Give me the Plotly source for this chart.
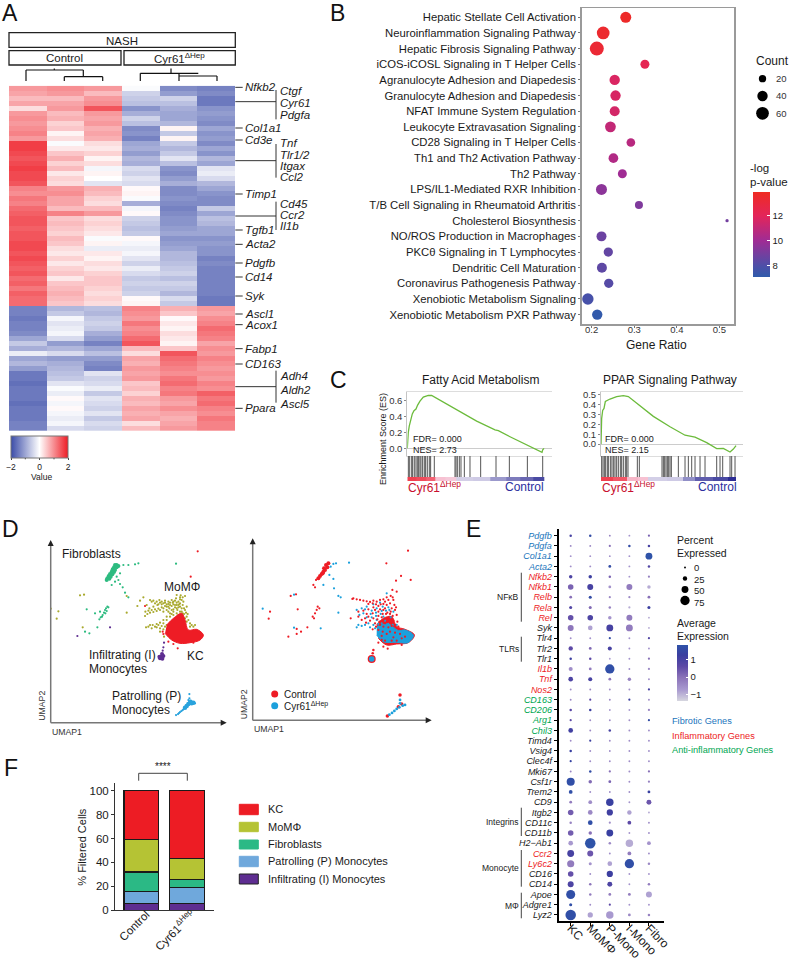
import plotly.graph_objects as go

W, H = 791, 960
FONT = "Liberation Sans, Arial, sans-serif"

# ---------- Panel A data ----------
ctrl1 = [.9,.8,.6,.8,.3,.9,1.0,.9,1.0,1.1,.9, 1.7,1.7,1.6,1.5,1.6,1.7,1.6,1.6,1.5, 1.1,1.0,1.2,1.1,
         1.3,1.4,1.5,1.5,1.4,1.5,1.5,1.6,1.6,1.5,1.6,1.5,1.4,1.5,1.3,1.4,1.2,1.4,1.3,1.3,
         -1.4,-1.4,-1.5,-1.4,-1.4,-1.3,-1.0,-.6,-.9,-.2,-1.0,-.8,-1.1,
         -1.5,-1.5,-1.6,-1.5,-1.5,-1.5,-1.6,-1.5,-1.5,-1.5,-1.4,-1.4]
ctrl2 = [1.0,.9,.6,.8,.9,.6,.7,.4,.5,.1,.3, -.05,.2,.5,.7,.4,.6,.2,.4,.3, .9,1.0,.8,.8,
         .6,1.1,.5,.6,.5,.4,.6,.5,.3,.2,.4,.2,.4,.5,.2,.5,.6,.7,.6,.5,
         -.8,-.6,-.1,-.3,-.2,-.1,-.4,-1.1,-.8,-.4,-1.1,-.9,-.8,
         -.7,-.6,-.3,-.05,-.2,.05,-.1,.05,-.1,-.2,-.1,-.4]
ctrl3 = [.9,.6,.9,1.0,1.5,.9,.8,.9,.7,.8,.7, .3,.2,.4,.1,.3,-.1,.1,.0,-.3, .7,.6,.4,.3,
         .6,.9,.3,.4,.3,.2,-.05,.1,-.2,.2,.1,.3,.2,.4,.5,.5,.4,.3,.4,.3,
         -.7,-.8,-.6,-.5,-.6,-.9,-1.1,-1.4,-1.0,-.7,-1.1,-1.3,-1.4,
         -.3,-.5,-.4,-.2,-.6,-.3,-.4,-.5,-.3,-.6,-.4,-.5]
cyr1 = [-.05,-.5,-.6,-.7,-1.2,-.9,-.5,-.7,-1.3,-1.2,-1.4, -1.0,-.9,-1.1,-.8,-.9,-.4,-.5,-.3,-.4, .05,.1,-.05,-.9,
        -.1,.05,-.5,-.6,-.7,-.6,.05,-.1,-.2,-.1,-.3,-.5,-.2,-.4,-.6,-.5,-.6,-.5,.05,.1,
        1.1,1.0,.9,1.2,1.0,1.1,1.3,1.5,.6,.3,.8,.7,.9,
        .8,.9,.5,.6,.4,.7,.6,.8,.7,.8,.3,.6]
cyr2 = [-1.3,-1.1,-.5,-.7,-.9,-1.0,-1.0,-.8,.1,-.6,.1, -.6,-.8,-.6,-.3,-.7,-1.2,-1.3,-1.1,-.9, -1.3,-1.3,-1.2,-1.3,
        -1.4,-1.3,-1.2,-1.2,-1.1,-1.0,-1.2,-1.1,-1.0,-.8,-.8,-.7,-.6,-.5,-.7,-.5,-.6,-.8,-.4,-.6,
        .7,.5,.05,.2,.1,.3,.2,.1,.5,1.5,1.3,1.2,1.1,
        1.0,1.2,1.3,1.1,1.2,.9,.8,1.0,.8,.7,.8,.9]
cyr3 = [-1.4,-1.3,-1.5,-1.5,-1.2,-1.1,-1.2,-1.3,-1.0,-1.2,-1.1, -1.3,-1.0,-1.2,-.8,-1.0,-.3,-.2,-.4,-.8, -1.0,-1.2,-1.3,-1.3,
        -.6,-1.0,-.7,-.8,-1.0,-1.0,-1.2,-1.1,-1.2,-1.2,-1.4,-1.3,-1.4,-1.4,-1.4,-1.4,-1.4,-1.4,-1.5,-1.5,
        .9,.8,1.0,1.1,1.3,1.2,1.1,.8,1.0,.9,1.1,1.0,.9,
        1.0,.9,1.1,1.0,1.4,1.2,1.3,1.1,1.0,1.2,1.1,1.1]

single_genes = [("Nfkb2",262),("Col1a1",384),("Cd3e",420),("Timp1",582),("Tgfb1",690),("Acta2",733),("Pdgfb",789),
                ("Cd14",831),("Syk",888),("Ascl1",942),("Acox1",974),("Fabp1",1046),("CD163",1092),("Ppara",1225)]
gene_groups = [(305,270,358,[("Ctgf",273),("Cyr61",309),("Pdgfa",346)]),
               (482,432,533,[("Tnf",430),("Tlr1/2",464),("Itgax",497),("Ccl2",532)]),
               (648,605,690,[("Cd45",612),("Ccr2",645),("Il1b",677)]),
               (1160,1112,1208,[("Adh4",1128),("Aldh2",1170),("Ascl5",1213)])]

# ---------- Panel B data ----------
pathways = ["Hepatic Stellate Cell Activation","Neuroinflammation Signaling Pathway","Hepatic Fibrosis Signaling Pathway",
            "iCOS-iCOSL Signaling in T Helper Cells","Agranulocyte Adhesion and Diapedesis","Granulocyte Adhesion and Diapedesis",
            "NFAT Immune System Regulation","Leukocyte Extravasation Signaling","CD28 Signaling in T Helper Cells",
            "Th1 and Th2 Activation Pathway","Th2 Pathway","LPS/IL1-Mediated RXR Inhibition",
            "T/B Cell Signaling in Rheumatoid Arthritis","Cholesterol Biosynthesis","NO/ROS Production in Macrophages",
            "PKCθ Signaling in T Lymphocytes","Dendritic Cell Maturation","Coronavirus Pathogenesis Pathway",
            "Xenobiotic Metabolism Signaling","Xenobiotic Metabolism PXR Pathway"]
gene_ratio = [.28,.227,.212,.325,.254,.256,.254,.244,.292,.251,.272,.223,.311,.518,.223,.239,.224,.24,.191,.213]
path_count = [45,60,73,30,40,40,37,43,28,35,30,45,24,4,37,32,37,32,48,40]
log_p = [13.6,13.4,13.2,12.2,11.7,11.6,11.5,11.0,10.7,10.5,10.0,9.5,9.2,8.9,8.7,8.5,8.4,8.2,7.8,7.2]
count_legend = [20,40,60]

# ---------- Panel C data ----------
fa_rank = [112,113,115,118,122,127,132,138,143,150,160,175,185,210,260,320,375,385,420,470,516,518,522]
fa_es = [0,.10,.2,.28,.36,.43,.47,.49,.54,.59,.64,.66,.66,.6,.48,.34,.23,.22,.145,.04,-.05,-.02,0]
fa_hits = [115,118,124,128,133,138,142,146,150,153,158,163,167,172,178,182,193,255,258,262,268,273,283,300,332,378,418,472,518]
fa_edges = [112,140,170,195,225,258,310,360,410,450,490,522]
fa_rib = [1.7,1.6,1.4,.5,.4,-.25,-.3,-.8,-1.1,-1.3,-1.6]
pp_rank = [693,695,698,702,706,720,740,760,775,800,850,900,945,975,1010,1040,1060,1080,1090,1098]
pp_es = [0,.26,.34,.36,.43,.455,.48,.49,.48,.41,.28,.175,.09,.07,.015,-.045,-.044,-.08,-.05,-.015]
pp_hits = [695,699,703,707,712,716,722,726,731,735,740,745,751,755,760,766,770,774,802,808,876,880,884,888,892,896,900,904,
           925,945,955,965,975,990,1005,1040,1050,1058,1080,1085,1095]
pp_edges = [693,730,770,805,835,890,940,975,1030,1075,1098]
pp_rib = [1.7,1.5,.6,.5,-.25,-.3,-.9,-1.4,-1.6,-1.9]

# ---------- Panel D data (UMAP units) ----------
fib_dense = [(350,165),(345,165),(355,168),(342,172),(350,172),(338,178),(345,180),(335,185),(342,186),(330,192),(337,193),
             (326,198),(332,200),(322,205),(328,206),(320,210)]
fib_sparse = [(370,165),(385,165),(405,163),(415,160),(528,161),(360,190),(350,200),(355,210),(360,222),(345,215),(335,225),
              (368,232),(375,248),(385,262),(322,290),(318,295),(320,303),(312,308),(308,315),(302,322),(315,300),(300,305),
              (285,310),(260,298),(255,365),(268,370),(292,352),(325,292),(316,310),(306,320),(298,328)]
mo_pts = [(450,270),(460,272),(470,275),(480,278),(490,280),(500,283),(510,285),(520,283),(530,285),(540,262),(545,270),(535,275),
          (525,272),(515,270),(505,275),(495,288),(485,292),(475,296),(465,298),(455,300),(445,302),(436,305),(440,285),(448,295),
          (460,290),(472,285),(508,295),(520,298),(532,300),(545,295),(555,300),(548,285),(540,305),(552,312),(560,320),(565,330),
          (570,340),(545,320),(510,310),(500,320),(490,330),(480,338),(470,342),(458,345),(445,350),(438,352),(480,355),(490,358),
          (470,352),(420,272),(430,262),(412,288),(580,350),(575,345),(555,258),(530,255),(175,304),(170,326),(152,296),(240,256),
          (252,254),(380,258),(380,308),(248,352),(525,292),(515,300),(530,310),(500,300),(490,305),(538,282),(550,275),(558,308),
          (505,290),(495,272),(485,283),(478,270),(540,290),(552,295),(563,312),(528,265),(518,278),
          (455,275),(465,280),(475,283),(485,275),(495,278),(505,282),(515,288),(525,285),(535,292),(540,280),(530,278),(520,275),
          (510,278),(500,290),(490,295),(480,300),(470,303),(460,306),(450,308),(442,312),(435,318),(520,305),(530,295),(545,305),
          (535,315),(548,310),(555,325),(560,335),(510,320),(520,315),(500,330),(490,340),(500,345),(485,348),(475,345),(465,350),
          (455,355),(450,345),(495,350),(480,365),(492,380),(540,268),(548,262),(542,256),(535,285),(560,290),(505,305),(515,312),
          (570,350),(585,345)]
kc_x = [500,520,545,555,565,590,610,600,570,540,515,495]
kc_y = [345,325,310,330,360,358,375,390,398,400,390,370]
kc_sparse = [(593,124),(572,200),(435,288),(533,415),(490,372),(488,365),(505,395),(520,402),(580,398)]
inf_dense = [(478,440),(484,440),(490,438),(480,445),(487,446),(486,432)]
inf_sparse = [(488,422),(490,412),(492,398),(232,378),(330,352)]
pat_dense = [(570,578),(575,580),(580,578),(565,582),(572,576),(560,588),(555,593)]
pat_sparse = [(548,600),(540,606),(534,612),(528,615),(544,603),(537,609),(551,597),(568,552),(568,565),(565,570),(572,572),(585,580)]

red_dense = [(985,160),(978,165),(982,172),(975,180),(970,185),(965,192),(960,198),(955,205),(972,175),(968,190)]
red_sparse = [(1224,122),(1159,160),(1203,198),(1232,210),(1188,212),(1177,240),(1190,245),(948,210),(940,225),(945,232),(888,253),
              (872,258),(893,298),(810,305),(806,326),(890,357),(903,365),(890,372),(865,380),(922,352),(953,290),(958,295),(950,300),
              (945,310),(938,320),(942,325),(1060,265),(1052,325),(1057,267),(1070,268),(1080,270),(1090,272),(1100,274),(1110,276),
              (1120,272),(1130,275),(1140,270),(1150,268),(1160,262),(1172,258),(1180,270),(1170,280),(1160,285),(1150,282),(1135,288),
              (1120,292),(1105,298),(1090,302),(1075,305),(1125,300),(1140,298),(1155,295),(1175,295),(1185,300),(1190,315),(1178,318),
              (1162,308),(1148,312),(1135,318),(1120,325),(1110,332),(1098,338),(1165,325),(1150,330),(1180,332),(1192,335),(1140,345),
              (1128,350),(1118,358),(1150,410),(1163,416),(1135,398),(1205,405),(1175,348),(1195,350),(1165,352),(1160,372),(1180,382),
              (1200,372),(1145,378),(1155,392),(1190,392),(1215,380),
              (1105,282),(1118,280),(1128,283),(1142,283),(1155,275),(1165,270),(1178,262),(1183,285),(1188,292),(1172,305),(1158,312),
              (1145,322),(1132,328),(1125,340),(1170,312),(1155,340),(1185,345),(1172,340),(1162,335),(1138,335),(1150,350),(1105,320),
              (1095,325),(1085,330),(1075,320),(1150,300),(1135,305),(1118,310),(1100,312),(1135,360),(1148,365),(1170,365),(1185,368),
              (1205,385),(1175,392),(1145,390)]
blue_sparse = [(1047,158),(1008,160),(1000,162),(992,170),(788,296),(882,254),(882,353),(962,355),(1015,308),(1000,207),(970,225),
               (1002,235),(1015,258),(1022,262),(988,195),(1070,300),(1085,295),(1100,290),(1120,283),(1140,278),(1070,352),(1085,348),
               (1105,340),(1130,330),(1150,320),(1160,250),(1075,345),(1112,312),(1128,308),(1145,303),(1168,300),(1180,305),(1165,342),
               (1145,340),(1110,352),(1090,310),(1078,315),(1100,322),(1115,322),(1128,318),(1142,312),(1158,302),(1172,322),(1155,332),
               (1178,345),(1190,345),(1135,342),(1120,345),(1095,345),(1125,355),(1148,290),(1165,292),(1130,295),(1115,302),(1095,298)]
kc_red_x = [1130,1150,1175,1190,1215,1243,1225,1190,1160,1135]
kc_red_y = [345,325,320,350,358,375,398,402,405,385]
kc_blue_x = [1130,1165,1195,1215,1240,1224,1190,1150,1130]
kc_blue_y = [350,342,362,360,376,398,397,395,375]
inf_r = [(1118,430),(1120,420)]
inf_b = [(1115,447)]
inf_ring = [(1115,447)]
pat_r = [(1205,582),(1200,555),(1162,618),(1195,590)]
pat_b = [(1215,585),(1208,587),(1198,592),(1190,597),(1183,603),(1176,609),(1168,614),(1200,570),(1200,580)]

# ---------- Panel E data ----------
dot_genes = ["Pdgfb","Pdgfa","Col1a1","Acta2","Nfkb2","Nfkb1","Relb","Rela","Rel","Syk","Tlr4","Tlr2","Tlr1","Il1b","Tnf","Nos2",
             "CD163","CD206","Arg1","Chil3","Timd4","Vsig4","Clec4f","Mki67","Csf1r","Trem2","CD9","Itgb2","CD11c","CD11b",
             "H2−Ab1","Ccr2","Ly6c2","CD16","CD14","Apoe","Adgre1","Lyz2"]
blue_genes = {"Pdgfb","Pdgfa","Col1a1","Acta2"}
red_genes = {"Nfkb2","Nfkb1","Relb","Rela","Rel","Il1b","Tnf","Nos2","Ccr2","Ly6c2"}
green_genes = {"CD163","CD206","Arg1","Chil3"}
dot_cols = ["KC","MoMΦ","P-Mono","I-Mono","Fibro"]
pct_kc = [6,0,0,0,16,37,9,12,37,41,0,25,6,22,28,0,0,6,3,28,0,6,3,0,62,19,9,37,6,37,28,50,53,37,41,72,12,87]
pct_mo = [6,0,0,0,16,41,12,12,37,28,0,9,6,9,22,0,3,6,0,0,3,0,0,6,16,0,19,28,28,16,87,41,12,0,6,6,0,34]
pct_pm = [0,3,0,9,6,9,3,6,16,50,3,22,0,75,9,0,0,0,0,6,0,0,0,3,9,0,56,44,3,50,6,0,28,44,31,9,3,56]
pct_im = [0,6,0,0,0,41,3,3,41,50,0,0,0,0,16,0,3,0,0,0,0,0,0,0,0,0,0,25,19,0,56,19,75,0,0,9,0,9]
pct_fi = [3,6,50,6,3,16,9,12,0,0,3,0,3,3,0,3,0,3,3,0,0,0,0,3,3,9,31,0,0,0,19,0,6,0,6,41,0,6]
exp_kc = [1.0,-.3,-.6,-.5,.9,.2,0,.8,.5,-.1,-.5,.6,1.2,-.5,.9,-.5,-.4,.7,.6,1.1,-.5,1.3,1.4,-.3,1.7,1.7,-.2,.3,-.3,.3,-.7,1.0,-.2,.5,.9,1.7,1.7,1.7]
exp_mo = [1.6,-.3,-.6,-.5,1.2,1.0,1.6,.1,.9,-.8,-.6,.1,.6,-.2,1.0,-.4,.6,1.2,-.5,-.4,1.2,-.5,-.5,1.6,.1,-.5,-.5,-.4,1.7,0,1.8,.4,-.6,-.5,-.1,-.2,-.5,-.8]
exp_pm = [-.3,0,-.6,1.6,.2,-.6,-.4,-.3,-.6,1.0,1.6,1.0,-.8,1.7,-.1,-.5,-.4,-.7,-.5,1.0,-.5,-.5,-.5,0,.2,-.5,1.3,1.1,-.5,1.3,-.4,-.5,-.8,1.2,.9,-.2,.6,-.7]
exp_im = [-.6,1.6,-.6,-.6,-.6,-.2,-.4,-.9,-.2,-.2,-.6,-.6,-.6,-.5,-.3,-.5,1.2,-.7,-.5,-.5,-.5,-.5,-.5,-.5,-.5,-.5,-.6,-.8,.6,-.6,-.9,-.2,1.7,-.6,-.6,-.2,-.6,-.4]
exp_fi = [.2,1.0,1.8,.8,-.3,-.9,0,1.2,-.9,-.9,.8,-.6,0,-.4,-.5,1.0,-.4,-.3,1.6,-.5,-.5,-.5,-.5,0,-.3,1.3,.4,-.9,-.5,-.5,-.6,-.5,-.4,-.6,-.2,-.8,-.6,-.3]
pct_legend = [0,25,50,75]

# ---------- Panel F data ----------
f_groups = ["Control", "Cyr61<sup>ΔHep</sup>"]
f_series = [("Infiltrating (I) Monocytes", [6, 6], "#5e2d91"),
            ("Patrolling (P) Monocytes", [10, 13], "#6fa8dc"),
            ("Fibroblasts", [16, 7], "#2bb985"),
            ("MoMΦ", [27.5, 17], "#b5c334"),
            ("KC", [40.5, 57], "#ed1c24")]

# ---------- helpers ----------
px = lambda x: x / W
py = lambda y: 1 - y / H
layout = dict(width=W, height=H, margin=dict(l=0, r=0, t=0, b=0, pad=0, autoexpand=False), paper_bgcolor="white", plot_bgcolor="white",
              font=dict(family=FONT, color="#1a1a1a", size=10), showlegend=False, shapes=[], annotations=[])
hidden = dict(visible=False, fixedrange=True)

def axes(n, x0, x1, ytop, ybot, xa=None, ya=None):
    s = "" if n == 1 else str(n)
    xd = dict(hidden); yd = dict(hidden)
    xd.update(xa or {}); yd.update(ya or {})
    xd.update(domain=[px(x0), px(x1)], anchor="y" + s)
    yd.update(domain=[py(ybot), py(ytop)], anchor="x" + s)
    layout["xaxis" + s] = xd
    layout["yaxis" + s] = yd
    return "x" + s, "y" + s

def text(x, y, t, size=11, color="#1a1a1a", anchor="left", angle=0):
    layout["annotations"].append(dict(xref="paper", yref="paper", x=px(x), y=py(y), text=t, showarrow=False,
                                      xanchor="center" if anchor == "middle" else anchor,
                                      yanchor="middle", textangle=angle, borderpad=0, borderwidth=0,
                                      font=dict(size=size, color=color, family=FONT)))

def line(x0, y0, x1, y1, color="#222222", w=1):
    layout["shapes"].append(dict(type="line", xref="paper", yref="paper", x0=px(x0), y0=py(y0), x1=px(x1), y1=py(y1),
                                 line=dict(color=color, width=w)))

def rect(x0, y0, x1, y1, fill="rgba(0,0,0,0)", color="#222222", w=1, kind="rect"):
    layout["shapes"].append(dict(type=kind, xref="paper", yref="paper", x0=px(x0), y0=py(y0), x1=px(x1), y1=py(y1),
                                 fillcolor=fill, line=dict(color=color, width=w)))

def head(tx, ty, up=True):
    if up:
        p = [(tx, ty), (tx - 3, ty + 6), (tx + 3, ty + 6)]
    else:
        p = [(tx, ty), (tx - 6, ty - 3), (tx - 6, ty + 3)]
    path = "M " + " L ".join("%.5f,%.5f" % (px(a), py(b)) for a, b in p) + " Z"
    layout["shapes"].append(dict(type="path", xref="paper", yref="paper", path=path, fillcolor="#222222", line=dict(width=0)))

fig = go.Figure()
for lab, x, y in [("A", 2, 13.5), ("B", 330, 13.5), ("C", 330, 380), ("D", 2, 529), ("E", 466, 529), ("F", 4, 768)]:
    text(x, y, lab, size=23, color="#111111")

# ---------- Panel A ----------
hx, hy = axes(1, 9, 235.3, 85.7, 431, dict(range=[-.5, 5.5]), dict(range=[68.5, -.5]))
rows = list(range(len(ctrl1)))
heat_scale = [[0, "#3b4ca8"], [.5, "#ffffff"], [1, "#ee1c25"]]
fig.add_trace(go.Heatmap(z=[list(r) for r in zip(ctrl1, ctrl2, ctrl3, cyr1, cyr2, cyr3)], x=list(range(6)), y=rows, xaxis=hx, yaxis=hy,
                         zmin=-2, zmax=2, colorscale=heat_scale, hoverinfo="skip",
                         colorbar=dict(orientation="h", x=px(11), xanchor="left", y=py(435.7), yanchor="top", lenmode="pixels", len=57.3,
                                       thickness=21.6, xpad=0, ypad=0, outlinecolor="#777777", outlinewidth=1,
                                       tickvals=[-2, 0, 2], ticktext=["−2", "0", "2"], ticks="outside", ticklen=2,
                                       tickfont=dict(size=8.5, family=FONT))))
line(25.3, 457.3, 25.3, 459.3, color="#333333")
line(54, 457.3, 54, 459.3, color="#333333")
text(41.5, 476.5, "Value", size=8.5, anchor="middle")
rect(9, 32.7, 235.3, 47.3, w=1.3)
rect(9, 50.7, 121, 65, w=1.3)
rect(124, 50.7, 235.3, 65, w=1.3)
text(122, 40.5, "NASH", size=11.5, anchor="middle")
text(64.5, 58, "Control", size=11.5, anchor="middle")
text(179.5, 58, "Cyr61<sup>ΔHep</sup>", size=11.5, anchor="middle")
# dendrograms
for a in [(26,70,26,81),(26,70,83.3,70),(83.3,70,83.3,76.7),(64.3,76.7,102.7,76.7),(64.3,76.7,64.3,81),(102.7,76.7,102.7,81),(54.3,68.5,54.3,70),
          (140.3,73.3,198.3,73.3),(140.3,73.3,140.3,81),(179,76,217,76),(179,73.3,179,81),(217,76,217,81),(171,68.5,171,73.3)]:
    line(*a, color="#111111", w=1.2)
for name, z in single_genes:
    line(235.3, z / 3, 242.7, z / 3, color="#333333")
    text(245, z / 3, "<i>%s</i>" % name, size=11.5)
for z, top, bot, names in gene_groups:
    line(235.3, z / 3, 276, z / 3, color="#333333")
    line(276, top / 3, 276, bot / 3, color="#333333")
    for name, zt in names:
        text(279.5, zt / 3, "<i>%s</i>" % name, size=11.5)

# ---------- Panel B ----------
bx, by = axes(2, 581.7, 734.3, 8.3, 324,
              dict(visible=True, range=[.1765, .535], tickvals=[.2, .3, .4, .5], ticktext=["0.2", "0.3", "0.4", "0.5"], ticks="outside", ticklen=2,
                   showgrid=False, zeroline=False, showline=True, mirror=True, linecolor="#9a9a9a", linewidth=1.5, tickcolor="#777777",
                   ticklabelstandoff=-6, tickfont=dict(size=9.5, color="#333333")),
              dict(visible=True, type="category", categoryorder="array", categoryarray=pathways, range=[19.6, -.575], ticks="outside", ticklen=2,
                   showgrid=False, zeroline=False, showline=True, mirror=True, linecolor="#9a9a9a", linewidth=1.5, tickcolor="#777777",
                   tickfont=dict(size=11.3, color="#1a1a1a")))
p_scale = [[0, "#2f5bab"], [.13, "#4d4fa8"], [.43, "#a02c94"], [.72, "#e3255a"], [1, "#ef2b22"]]
SIZEREF = .744
fig.add_trace(go.Scatter(x=gene_ratio, y=pathways, mode="markers", xaxis=bx, yaxis=by, hoverinfo="skip",
                         marker=dict(size=path_count, sizemode="area", sizeref=SIZEREF, opacity=1, color=log_p, cmin=7.1, cmax=13.84, colorscale=p_scale,
                                     line=dict(width=0),
                                     colorbar=dict(x=px(753.3), xanchor="left", y=py(192.3), yanchor="top", lenmode="pixels", len=85.4, thickness=17.3,
                                                   xpad=0, ypad=0, outlinewidth=0, tickvals=[8, 10, 12], ticks="inside", ticklen=3, tickcolor="white",
                                                   tickfont=dict(size=9.5, family=FONT)))))
text(656.7, 344.5, "Gene Ratio", size=12, anchor="middle")
text(756, 61, "Count", size=12)
text(750, 167.7, "-log", size=11.5)
text(750, 181.7, "p-value", size=11.5)
cx, cy = axes(3, 750, 775, 70, 122, dict(range=[-1, 1]), dict(range=[70, 10]))
fig.add_trace(go.Scatter(x=[0, 0, 0], y=count_legend, mode="markers", xaxis=cx, yaxis=cy, hoverinfo="skip",
                         marker=dict(size=count_legend, sizemode="area", sizeref=SIZEREF, opacity=1, color="black", line=dict(width=0))))
for v, y in zip(count_legend, [79, 96, 113.3]):
    text(776, y, str(v), size=9.5, color="#333333")

# ---------- Panel C ----------
def gsea(n, x0, x1, rng_x, yr, ticks, ticktext, rank, es, hits, edges, rib):
    tick = dict(visible=True, range=yr, tickvals=ticks, ticktext=ticktext, ticks="outside", ticklen=2, showgrid=False, zeroline=True,
                zerolinecolor="#cccccc", zerolinewidth=1, showline=True, linecolor="#c4c4c4", linewidth=1, tickcolor="#888888",
                tickfont=dict(size=9.5, color="#333333"))
    xa, ya = axes(n, x0, x1, 392.3, 456, dict(range=rng_x), tick)
    layout["xaxis" + str(n)].update(visible=True, showticklabels=False, ticks="", showgrid=False, zeroline=False, showline=True, mirror=True, linecolor="#dddddd", linewidth=1)
    fig.add_trace(go.Scatter(x=rank, y=es, mode="lines", xaxis=xa, yaxis=ya, hoverinfo="skip", line=dict(color="#6cbb3c", width=1.3)))
    xr, yr2 = axes(n + 1, x0, x1, 456, 477, dict(range=rng_x), dict(range=[0, 1]))
    hx2, hy2 = [], []
    for h in hits:
        hx2 += [h, h, None]
        hy2 += [0, 1, None]
    fig.add_trace(go.Scatter(x=hx2, y=hy2, mode="lines", xaxis=xr, yaxis=yr2, hoverinfo="skip", line=dict(color="#555555", width=1)))
    xh, yh = axes(n + 2, x0, x1, 477, 481.3, dict(range=rng_x), dict(range=[-.5, .5]))
    fig.add_trace(go.Heatmap(z=[rib], x=edges, y=[0], xaxis=xh, yaxis=yh, zmin=-2, zmax=2, showscale=False, hoverinfo="skip",
                             colorscale=[[0, "#22228f"], [.5, "#ece8f4"], [.62, "#f7c3d4"], [1, "#ee2030"]]))

gsea(4, 407.3, 551.7, [112, 545], [-.096, .7], [0, .2, .4, .6], ["0.0", "0.2", "0.4", "0.6"], fa_rank, fa_es, fa_hits, fa_edges, fa_rib)
gsea(7, 601, 742.7, [693, 1118], [-.12, .523], [0, .1, .2, .3, .4, .5], ["0.0", "0.1", "0.2", "0.3", "0.4", "0.5"], pp_rank, pp_es, pp_hits, pp_edges, pp_rib)
text(481, 380, "Fatty Acid Metabolism", size=12, anchor="middle")
text(670, 380, "PPAR Signaling Pathway", size=12, anchor="middle")
text(383, 439, "Enrichment Score (ES)", size=9, anchor="middle", angle=-90)
for x, a, b in [(412.7, "FDR= 0.000", "NES= 2.73"), (605, "FDR= 0.000", "NES= 2.15")]:
    text(x, 439, a, size=9)
    text(x, 450, b, size=9)
text(408, 487, "Cyr61<sup>ΔHep</sup>", size=12, color="#c8102e")
text(601.7, 487, "Cyr61<sup>ΔHep</sup>", size=12, color="#c8102e")
text(544, 487, "Control", size=12, color="#2b2f9e", anchor="right")
text(736.7, 487, "Control", size=12, color="#2b2f9e", anchor="right")

# ---------- Panel D ----------
def pts(xa, ya, p, color, size):
    fig.add_trace(go.Scatter(x=[a for a, _ in p], y=[b for _, b in p], mode="markers", xaxis=xa, yaxis=ya, hoverinfo="skip",
                             marker=dict(color=color, size=size, line=dict(width=0))))

def blob(xa, ya, xs, ys, color):
    fig.add_trace(go.Scatter(x=xs, y=ys, mode="lines", fill="toself", fillcolor=color, xaxis=xa, yaxis=ya, hoverinfo="skip",
                             line=dict(color=color, width=1, shape="spline")))

ux, uy = axes(10, 50.7, 226.7, 540, 722.7, dict(range=[152, 680]), dict(range=[638, 90]))
pts(ux, uy, fib_sparse, "#2dbb80", 2.2)
pts(ux, uy, fib_dense, "#2dbb80", 4)
pts(ux, uy, mo_pts, "#a9a92e", 2.2)
blob(ux, uy, kc_x, kc_y, "#ee1c25")
pts(ux, uy, kc_sparse, "#ee1c25", 2.2)
pts(ux, uy, inf_sparse, "#5e2d91", 2.2)
pts(ux, uy, inf_dense, "#5e2d91", 4)
pts(ux, uy, pat_sparse, "#29a3dd", 2.2)
pts(ux, uy, pat_dense, "#29a3dd", 4.5)

vx, vy = axes(11, 252.7, 431.7, 538.3, 720.3, dict(range=[758, 1295]), dict(range=[631, 85]))
pts(vx, vy, red_dense, "#ee1c25", 4)
blob(vx, vy, kc_red_x, kc_red_y, "#ee1c25")
blob(vx, vy, kc_blue_x, kc_blue_y, "#1ca0dc")
pts(vx, vy, blue_sparse, "#1ca0dc", 2.2)
pts(vx, vy, red_sparse, "#ee1c25", 2.2)
pts(vx, vy, inf_r, "#ee1c25", 2.5)
pts(vx, vy, inf_ring, "#ee1c25", 8)
pts(vx, vy, inf_b, "#1ca0dc", 5.5)
pts(vx, vy, pat_r, "#ee1c25", 3.5)
pts(vx, vy, pat_b, "#1ca0dc", 2.8)

line(50.7, 722.7, 50.7, 545, color="#777777", w=1.5)
line(50.7, 722.7, 222, 722.7, color="#777777", w=1.5)
head(50.7, 540)
head(226.7, 722.7, up=False)
line(252.7, 720.3, 252.7, 543, color="#777777", w=1.5)
line(252.7, 720.3, 427, 720.3, color="#777777", w=1.5)
head(252.7, 538.3)
head(431.7, 720.3, up=False)
text(62.3, 554, "Fibroblasts", size=12)
text(164, 587.3, "MoMΦ", size=12)
text(88.7, 655, "Infiltrating (I)", size=12)
text(88.7, 669.3, "Monocytes", size=12)
text(186.7, 655.7, "KC", size=12)
text(112.3, 695.7, "Patrolling (P)", size=12)
text(112.3, 710, "Monocytes", size=12)
text(51.7, 731.7, "UMAP1", size=8.7, color="#333333")
text(41.7, 706, "UMAP2", size=8.7, color="#333333", anchor="middle", angle=-90)
text(254, 728.7, "UMAP1", size=8.7, color="#333333")
text(244.3, 704, "UMAP2", size=8.7, color="#333333", anchor="middle", angle=-90)
rect(271.2, 690.5, 278.2, 697.5, fill="#ee1c25", color="#ee1c25", w=0, kind="circle")
rect(271.2, 702.2, 278.2, 709.2, fill="#1ca0dc", color="#1ca0dc", w=0, kind="circle")
text(283.7, 694, "Control", size=10)
text(283.7, 705.7, "Cyr61<sup>ΔHep</sup>", size=10)

# ---------- Panel E ----------
def gene_label(g):
    c = "#1b75bc" if g in blue_genes else "#ed1c24" if g in red_genes else "#00a651" if g in green_genes else "#1a1a1a"
    return '<i><span style="color:%s">%s</span></i>' % (c, g)

dot_size = lambda p: 1.9 + .099 * p
ex, ey = axes(12, 558.7, 664, 529, 920.7,
              dict(visible=True, range=[-.613, 4.77], tickvals=list(range(5)), ticktext=dot_cols, tickangle=45, ticks="outside", ticklen=3,
                   showline=True, linecolor="#000000", linewidth=2, tickcolor="#000000", showgrid=False, zeroline=False,
                   ticklabelstandoff=-9, tickfont=dict(size=12, color="#1a1a1a")),
              dict(visible=True, range=[37.56, -.65], tickvals=list(range(len(dot_genes))), ticktext=[gene_label(g) for g in dot_genes],
                   ticks="outside", ticklen=3, showline=True, linecolor="#000000", linewidth=2, tickcolor="#000000", showgrid=False, zeroline=False,
                   tickfont=dict(size=9, color="#1a1a1a")))
e_scale = [[0, "#d6d6df"], [.2, "#a99ad0"], [.42, "#8a72b8"], [.62, "#5d49a6"], [.82, "#3a3ea0"], [1, "#2f53a8"]]
xs, ys, ss, cs = [], [], [], []
for i, (pc, ec) in enumerate(zip([pct_kc, pct_mo, pct_pm, pct_im, pct_fi], [exp_kc, exp_mo, exp_pm, exp_im, exp_fi])):
    for j, (p, e) in enumerate(zip(pc, ec)):
        xs.append(i); ys.append(j); ss.append(dot_size(p)); cs.append(e)
fig.add_trace(go.Scatter(x=xs, y=ys, mode="markers", xaxis=ex, yaxis=ey, hoverinfo="skip",
                         marker=dict(size=ss, color=cs, cmin=-1.35, cmax=1.8, colorscale=e_scale, opacity=1, line=dict(width=0),
                                     colorbar=dict(x=px(677), xanchor="left", y=py(645), yanchor="top", lenmode="pixels", len=56, thickness=11,
                                                   xpad=0, ypad=0, outlinewidth=0, tickvals=[-1, 0, 1], ticktext=["−1", "0", "1"], ticks="inside", ticklen=2,
                                                   tickcolor="white", tickfont=dict(size=9.5, family=FONT)))))
sx, sy = axes(13, 675, 695, 560, 608, dict(range=[-1, 1]), dict(range=[92, -17]))
fig.add_trace(go.Scatter(x=[0, 0, 0, 0], y=pct_legend, mode="markers", xaxis=sx, yaxis=sy, hoverinfo="skip",
                         marker=dict(size=[dot_size(p) for p in pct_legend], opacity=1, color="black", line=dict(width=0))))
for v, y in zip(pct_legend, [567.7, 579, 590.5, 602]):
    text(693.5, y, str(v), size=9.5)
text(677, 540, "Percent", size=10.5)
text(677, 553, "Expressed", size=10.5)
text(677, 623, "Average", size=10.5)
text(677, 636, "Expression", size=10.5)
text(671.7, 720.7, "Fibrotic Genes", size=9.2, color="#1b75bc")
text(671.7, 735.7, "Inflammatory Genes", size=9.2, color="#ed1c24")
text(671.7, 750, "Anti-inflammatory Genes", size=9.2, color="#00a651")
for y0, y1, name in [(572.7, 621.7, "NFκB"), (636.7, 661.7, "TLRs"), (807.7, 836, "Integrins"), (850, 886.7, "Monocyte"), (892.7, 918.3, "MΦ")]:
    line(521.3, y0, 521.3, y1, color="#444444")
    text(519, (y0 + y1) / 2, name, size=8.5, anchor="right")

# ---------- Panel F ----------
fx, fy = axes(14, 115, 214, 782.7, 910.3,
              dict(visible=True, range=[-.572, 1.59], tickvals=[0, 1], ticktext=f_groups, tickangle=-45, ticks="", showline=True, linecolor="#333333", linewidth=1,
                   showgrid=False, zeroline=False, ticklabelstandoff=-8, ticklabelshift=5, tickfont=dict(size=11.5, color="#1a1a1a")),
              dict(visible=True, range=[0, 106.7], tickvals=[0, 20, 40, 60, 80, 100], ticks="outside", ticklen=3, showline=True, linecolor="#333333", linewidth=1,
                   tickcolor="#333333", showgrid=False, zeroline=False, tickfont=dict(size=11.5, color="#1a1a1a")))
for name, vals, col in f_series:
    fig.add_trace(go.Bar(x=[0, 1], y=vals, width=.75, name=name, xaxis=fx, yaxis=fy, hoverinfo="skip",
                         marker=dict(color=col, line=dict(color="#1a1a1a", width=1.2))))
layout["barmode"] = "stack"
line(138.7, 780.7, 138.7, 773.3, color="#444444")
line(138.7, 773.3, 187.3, 773.3, color="#444444")
line(187.3, 773.3, 187.3, 780.7, color="#444444")
text(163, 766, "****", size=10, anchor="middle")
text(82, 846.7, "% Filtered Cells", size=11, anchor="middle", angle=-90)
for (name, vals, col), (y0, y1) in zip(reversed(f_series), [(804.3, 814.7), (822.3, 831.7), (840, 849), (856.3, 866.7), (874, 884)]):
    rect(239.3, y0, 258.3, y1, fill=col, color="#222222" if name.startswith("Inf") else col, w=1)
    text(268, (y0 + y1) / 2 - .5, name, size=11)

fig.update_layout(**layout)
fig.write_html("out.html", config={"displayModeBar": False, "staticPlot": True},
               post_script="document.body.style.margin='0';document.body.style.overflow='hidden';")
